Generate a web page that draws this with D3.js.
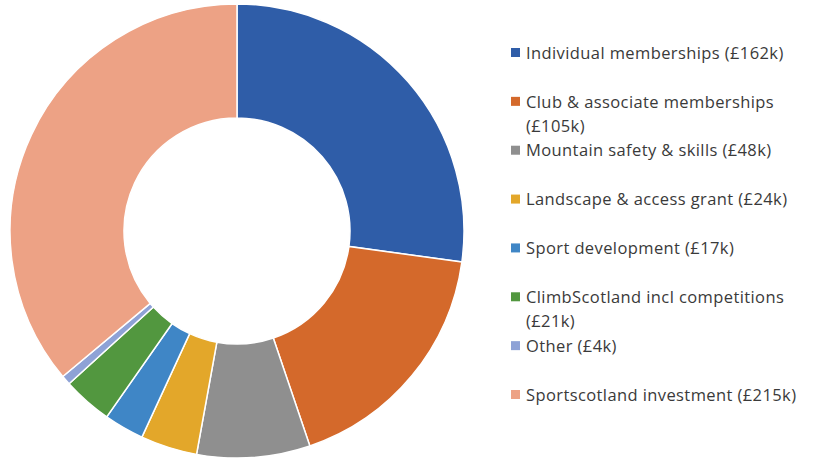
<!DOCTYPE html>
<html>
<head>
<meta charset="utf-8">
<script src="https://cdn.jsdelivr.net/npm/d3@7"></script>
<style>
  body { margin: 0; background: #fff; }
  svg { display: block; }
  .legend-text { font-family: "Open Sans", sans-serif; font-size: 16.5px; letter-spacing: 0.4px; fill: #3a3a3a; }
</style>
</head>
<body>
<svg id="canvas"></svg>
<script>
const categories = [
  'Individual memberships', 'Club & associate memberships', 'Mountain safety & skills',
  'Landscape & access grant', 'Sport development', 'ClimbScotland incl competitions',
  'Other', 'Sportscotland investment'
];
const values = [162, 105, 48, 24, 17, 21, 4, 215];
const colors = ['#2F5DA8', '#D4692B', '#8F8F8F', '#E3A72A', '#3F86C6', '#52973F', '#8EA2D6', '#EDA285'];
// legend labels, wrapped as in the original
const legendLines = [
  ['Individual memberships (£162k)'],
  ['Club & associate memberships', '(£105k)'],
  ['Mountain safety & skills (£48k)'],
  ['Landscape & access grant (£24k)'],
  ['Sport development (£17k)'],
  ['ClimbScotland incl competitions', '(£21k)'],
  ['Other (£4k)'],
  ['Sportscotland investment (£215k)']
];

const width = 813, height = 459;
const canvas = d3.select('#canvas').attr('width', width).attr('height', height);

const cx = 237, cy = 231;
const outerR = 227, innerR = 113;

const data = categories.map((c, i) => ({ name: c, value: values[i], color: colors[i] }));

const pie = d3.pie().value(d => d.value).sort(null);
const arc = d3.arc().innerRadius(innerR).outerRadius(outerR);

canvas.append('g')
  .attr('transform', `translate(${cx},${cy})`)
  .selectAll('path')
  .data(pie(data))
  .enter()
  .append('path')
  .attr('d', arc)
  .attr('fill', d => d.data.color)
  .attr('stroke', '#fff')
  .attr('stroke-width', 1.5);

// legend
const legendX = 511;
const legendY = d3.scaleLinear().domain([0, 7]).range([53, 395]);

const items = canvas.selectAll('.legend')
  .data(data)
  .enter()
  .append('g')
  .attr('class', 'legend')
  .attr('transform', (d, i) => `translate(${legendX},${legendY(i)})`);

items.append('rect')
  .attr('x', 0)
  .attr('y', -5)
  .attr('width', 9)
  .attr('height', 9)
  .attr('fill', d => d.color);

items.each(function(d, i) {
  const g = d3.select(this);
  legendLines[i].forEach((line, j) => {
    g.append('text')
      .attr('class', 'legend-text')
      .attr('x', 15)
      .attr('y', j * 24)
      .attr('dy', '0.35em')
      .text(line);
  });
});
</script>
</body>
</html>
